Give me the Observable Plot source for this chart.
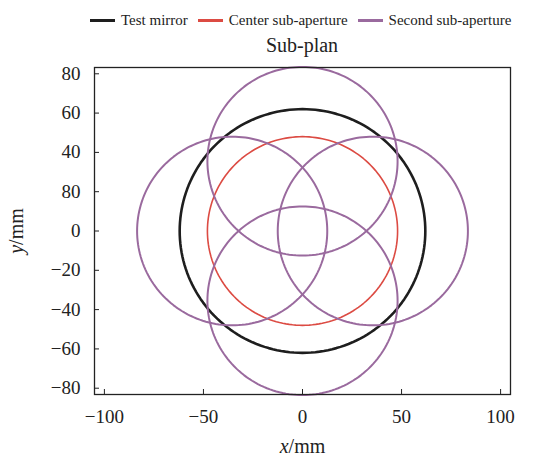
<!DOCTYPE html>
<html>
<head>
<meta charset="utf-8">
<script src="https://cdn.jsdelivr.net/npm/d3@7"></script>
<script src="https://cdn.jsdelivr.net/npm/@observablehq/plot@0.6"></script>
<style>
  body { margin: 0; background: #fff; font-family: "Liberation Serif", "DejaVu Serif", serif; }
  #legend { height: 28px; padding-top: 6px; box-sizing: content-box; display: flex; align-items: center; padding-left: 90px; font-size: 15px; color: #222; }
  .item { display: flex; align-items: center; margin-right: 10px; }
  .sw { width: 25px; height: 3px; margin-right: 6px; }
  #title { height: 22px; line-height: 22px; font-size: 20px; text-align: center; padding-left: 55px; color: #222; }
  #chart svg, #chart svg g, #chart svg text { font-family: "Liberation Serif", "DejaVu Serif", serif !important; font-variant: normal !important; font-variant-numeric: normal !important; }
</style>
</head>
<body>
<div id="legend"></div>
<div id="title">Sub-plan</div>
<div id="chart"></div>
<script>
// ---- data ----
const seriesNames = ["Test mirror", "Center sub-aperture", "Second sub-aperture"];
const testMirrorCenters = [[0, 0]];
const centerSubCenters = [[0, 0]];
const secondSubCenters = [[0, 35.5], [-35.5, 0], [35.5, 0], [0, -35.5]];
const seriesRadii = [62, 48, 48];
const xTicks = [-100, -50, 0, 50, 100];
const xTickLabels = ["−100", "−50", "0", "50", "100"];
const yTicks = [-80, -60, -40, -20, 0, 20, 40, 60, 80];
const yTickLabels = ["−80", "−60", "−40", "−20", "0", "80", "40", "60", "80"];

// ---- styles ----
const seriesColors = ["#1e1e1e", "#dc4b43", "#9a6a9e"];
const seriesWidths = [2.6, 1.6, 2];

// legend
const legend = document.getElementById("legend");
seriesNames.forEach((n, i) => {
  const it = document.createElement("div");
  it.className = "item";
  it.innerHTML = `<div class="sw" style="background:${seriesColors[i]}"></div><span>${n}</span>`;
  legend.appendChild(it);
});

// outline points for each circle (center + radius)
const allCenters = [testMirrorCenters, centerSubCenters, secondSubCenters];
const angles = d3.range(0, 361, 2).map(a => a * Math.PI / 180);
const outline = [];
allCenters.forEach((centers, s) => {
  centers.forEach(([cx, cy], c) => {
    angles.forEach(t => outline.push({
      series: seriesNames[s], id: `${s}-${c}`,
      x: cx + seriesRadii[s] * Math.cos(t),
      y: cy + seriesRadii[s] * Math.sin(t)
    }));
  });
});

const marks = [];
seriesNames.forEach((n, s) => {
  marks.push(Plot.line(outline.filter(d => d.series === n), {
    x: "x", y: "y", z: "id", stroke: seriesColors[s], strokeWidth: seriesWidths[s]
  }));
});

const plot = Plot.plot({
  width: 549,
  height: 402,
  marginTop: 11,
  marginBottom: 64,
  marginLeft: 94,
  marginRight: 39,
  style: { fontFamily: "'Liberation Serif', serif", fontSize: "19px", color: "#222", background: "#fff" },
  x: { domain: [-105, 105] },
  y: { domain: [-83.2, 83.2] },
  marks: [
    ...marks,
    Plot.frame({ stroke: "#222", strokeWidth: 1.3 }),
    Plot.axisX({ ticks: xTicks, tickFormat: d => xTickLabels[xTicks.indexOf(d)], tickSize: -5, tickPadding: 20, label: "x/mm", labelAnchor: "center", labelOffset: 58, stroke: "#222", fontVariant: "normal" }),
    Plot.axisY({ ticks: yTicks, tickFormat: d => yTickLabels[yTicks.indexOf(d)], tickSize: -5, tickPadding: 19, label: "y/mm", labelAnchor: "center", labelOffset: 86, stroke: "#222", fontVariant: "normal" })
  ]
});
document.getElementById("chart").appendChild(plot);

// italicize the variable letter in axis labels and drop arrows
plot.querySelectorAll('g[aria-label$="axis label"] text').forEach(t => {
  const txt = t.textContent.replace(/[↑↓←→]/g, "").trim();
  const v = txt.slice(0, 1), rest = txt.slice(1);
  t.textContent = "";
  const ts = document.createElementNS("http://www.w3.org/2000/svg", "tspan");
  ts.setAttribute("font-style", "italic");
  ts.textContent = v;
  t.appendChild(ts);
  t.appendChild(document.createTextNode(rest));
  t.setAttribute("font-size", "20px");
});
</script>
</body>
</html>
